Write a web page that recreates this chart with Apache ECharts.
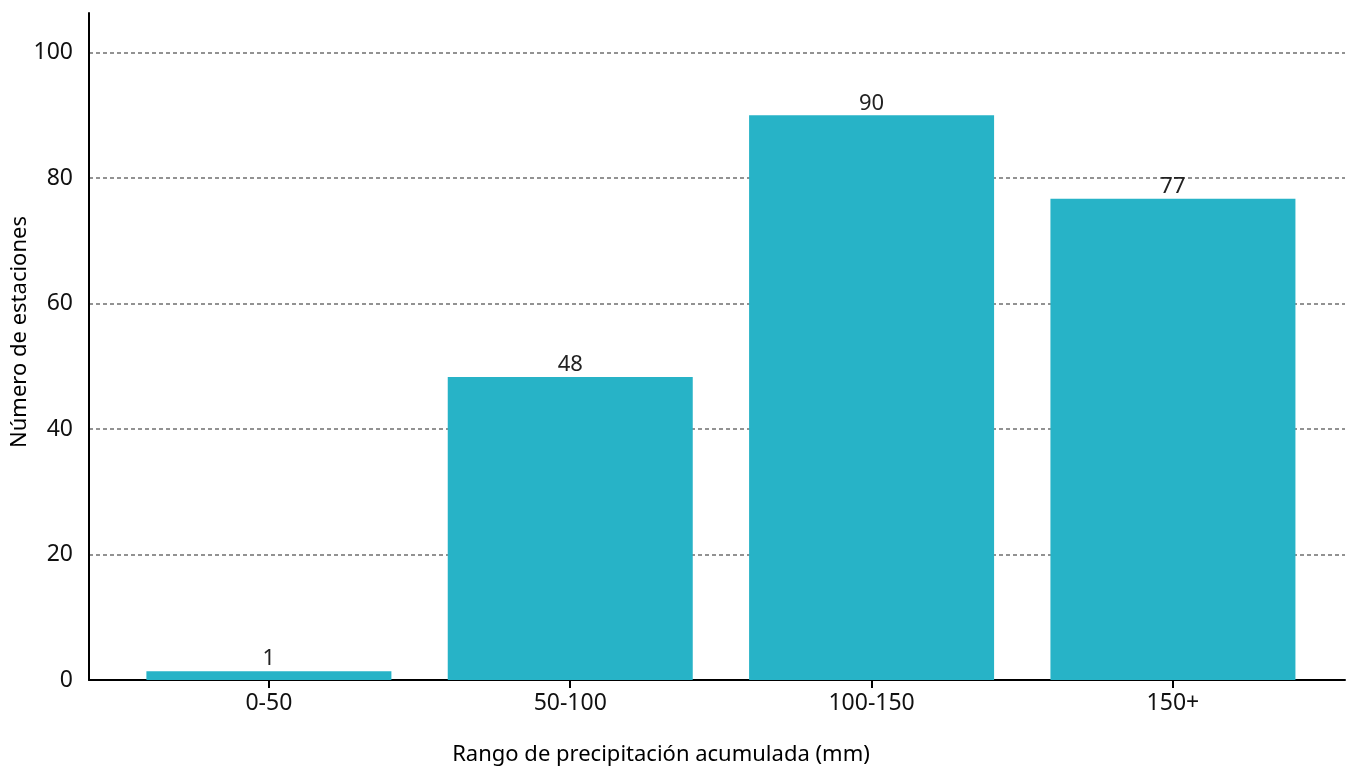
<!DOCTYPE html>
<html>
<head>
<meta charset="utf-8">
<script src="https://cdn.jsdelivr.net/npm/echarts@6/dist/echarts.min.js"></script>
<style>
html,body{margin:0;padding:0;background:#fff;}
#chart{width:1349px;height:767px;}
</style>
</head>
<body>
<div id="chart"></div>
<script>
var categories = ['0-50', '50-100', '100-150', '150+'];
var values = [1.4, 48.3, 90.0, 76.7];
var yTicks = [0, 20, 40, 60, 80, 100];
var xTitle = 'Rango de precipitación acumulada (mm)';
var yTitle = 'Número de estaciones';

var FONT = 'Noto Sans';
var chart = echarts.init(document.getElementById('chart'));
var idx = categories.map(function (c, i) { return i; });
var barData = values.map(function (v, i) { return [i, v]; });

chart.setOption({
  animation: false,
  backgroundColor: '#fff',
  textStyle: { fontFamily: FONT },
  grid: { left: 89, right: 4, top: 13, bottom: 87, containLabel: false },
  xAxis: {
    type: 'value',
    min: -0.597,
    max: 3.571,
    axisLine: { show: true, onZero: false, lineStyle: { color: '#000', width: 2 } },
    axisTick: { show: true, customValues: idx, length: 8, lineStyle: { color: '#000', width: 2 } },
    axisLabel: {
      customValues: idx,
      formatter: function (v) { return categories[Math.round(v)]; },
      color: '#111', fontSize: 23, fontFamily: FONT, margin: 12
    },
    splitLine: { show: false }
  },
  yAxis: {
    type: 'value',
    min: 0,
    max: 106.3,
    axisLine: { show: true, onZero: false, lineStyle: { color: '#000', width: 2 } },
    axisTick: { show: false, customValues: yTicks },
    axisLabel: { customValues: yTicks, color: '#111', fontSize: 23, fontFamily: FONT, margin: 16 },
    splitLine: { show: true, lineStyle: { color: '#6f6f6f', type: [4, 3], width: 1.6 } }
  },
  graphic: [
    { type: 'text', x: 661, y: 755, style: { text: xTitle, fontSize: 22, fontFamily: FONT, fill: '#000', align: 'center', verticalAlign: 'middle' } },
    { type: 'text', x: 20, y: 332, rotation: Math.PI / 2, style: { text: yTitle, fontSize: 22, fontFamily: FONT, fill: '#000', align: 'center', verticalAlign: 'middle' } }
  ],
  series: [{
    type: 'bar',
    data: barData,
    barWidth: 245,
    itemStyle: { color: '#27b3c7' },
    label: {
      show: true, position: 'top', distance: 1,
      formatter: function (p) { return Math.round(p.value[1]); },
      color: '#222', fontSize: 22, fontFamily: FONT
    },
    z: 3
  }]
});
</script>
</body>
</html>
